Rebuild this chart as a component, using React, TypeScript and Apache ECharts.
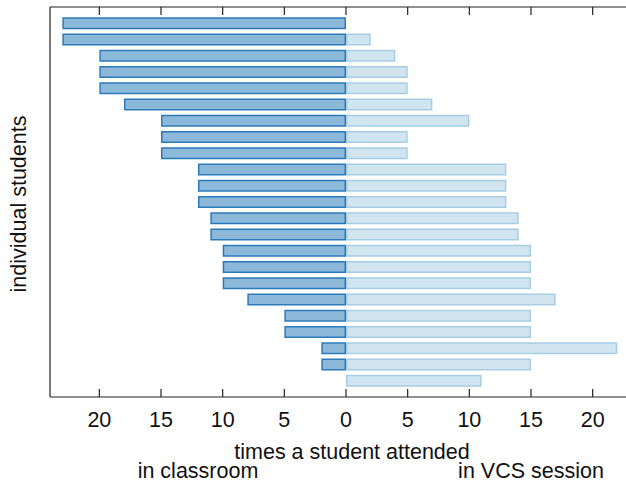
import React, { useEffect, useRef } from "react";
import * as echarts from "echarts";

const students = Array.from({ length: 23 }, (_, i) => `student ${i + 1}`);
const classroom = [23, 23, 20, 20, 20, 18, 15, 15, 15, 12, 12, 12, 11, 11, 10, 10, 10, 8, 5, 5, 2, 2, 0];
const vcsSession = [0, 2, 4, 5, 5, 7, 10, 5, 5, 13, 13, 13, 14, 14, 15, 15, 15, 17, 15, 15, 22, 15, 11];
const axisRange = [-24, 24];
const tickValues = [-20, -15, -10, -5, 0, 5, 10, 15, 20];
const xTitle = "times a student attended";
const yTitle = "individual students";
const leftLabel = "in classroom";
const rightLabel = "in VCS session";

const FONT = "'Liberation Sans', Arial, Helvetica, sans-serif";
const FS = 21.5;
const GRID_LEFT = 50;
const GRID_W = 592;
const GRID_TOP = 7;
const GRID_H = 390;
const TICK_LEN = 8;
const FRAME = "#222";

export default function App() {
  const ref = useRef<HTMLDivElement>(null);
  useEffect(() => {
    document.body.style.margin = "0";
    if (!ref.current) return;
    const chart = echarts.init(ref.current, null, { renderer: "svg" });
    const cats = ["", ...students, ""];
    const leftData = ["-", ...classroom.map((v) => (v === 0 ? "-" : -v)), "-"];
    const rightData = ["-", ...vcsSession.map((v) => (v === 0 ? "-" : v)), "-"];
    const frameData = tickValues.map((v) => [v, 0]);

    const renderFrame = (params: any, api: any) => {
      const cs = params.coordSys;
      const x = api.coord([api.value(0), 0])[0];
      const top = cs.y;
      const bottom = cs.y + cs.height;
      const style = { stroke: FRAME, lineWidth: 1.2, fill: "none" };
      const children: any[] = [
        { type: "line", shape: { x1: x, y1: top, x2: x, y2: top + TICK_LEN }, style },
        { type: "line", shape: { x1: x, y1: bottom - TICK_LEN, x2: x, y2: bottom }, style },
      ];
      if (params.dataIndex === 0) {
        children.push(
          { type: "line", shape: { x1: cs.x, y1: top, x2: cs.x + cs.width, y2: top }, style },
          { type: "line", shape: { x1: cs.x, y1: bottom, x2: cs.x + cs.width, y2: bottom }, style },
          { type: "line", shape: { x1: cs.x, y1: top, x2: cs.x, y2: bottom }, style }
        );
      }
      return { type: "group", children };
    };

    chart.setOption({
      animation: false,
      textStyle: { fontFamily: FONT },
      grid: {
        left: GRID_LEFT,
        top: GRID_TOP,
        width: GRID_W,
        height: GRID_H,
        outerBoundsMode: "none",
      },
      xAxis: {
        type: "value",
        min: axisRange[0],
        max: axisRange[1],
        axisLine: { show: false, onZero: false },
        axisTick: { show: false },
        splitLine: { show: false },
        axisLabel: {
          customValues: tickValues.slice(),
          formatter: (v: number) => String(Math.abs(v)),
          fontSize: FS,
          color: "#111",
          margin: 12,
          fontFamily: FONT,
        },
      },
      yAxis: {
        type: "category",
        data: cats,
        inverse: true,
        boundaryGap: false,
        axisLine: { show: false, onZero: false },
        axisTick: { show: false },
        axisLabel: { show: false },
        splitLine: { show: false },
      },
      series: [
        {
          name: leftLabel,
          type: "bar",
          data: leftData,
          barWidth: 12,
          barGap: "-100%",
          itemStyle: { color: "#8cb9da", borderColor: "#2b7bba", borderWidth: 1.5 },
        },
        {
          name: rightLabel,
          type: "bar",
          data: rightData,
          barWidth: 12,
          barGap: "-100%",
          itemStyle: { color: "#d1e5f0", borderColor: "#a8cde3", borderWidth: 1.5 },
        },
        {
          name: "frame",
          type: "custom",
          data: frameData,
          encode: { x: 0, y: 1 },
          clip: false,
          silent: true,
          z: 5,
          renderItem: renderFrame,
        },
      ],
      graphic: [
        {
          type: "text",
          x: 352,
          y: 452,
          style: { text: xTitle, fontSize: FS, fill: "#111", align: "center", verticalAlign: "middle", fontFamily: FONT },
        },
        {
          type: "text",
          x: 198,
          y: 471,
          style: { text: leftLabel, fontSize: FS, fill: "#111", align: "center", verticalAlign: "middle", fontFamily: FONT },
        },
        {
          type: "text",
          x: 531,
          y: 471,
          style: { text: rightLabel, fontSize: FS, fill: "#111", align: "center", verticalAlign: "middle", fontFamily: FONT },
        },
        {
          type: "text",
          x: 19,
          y: 204,
          rotation: Math.PI / 2,
          style: { text: yTitle, fontSize: FS, fill: "#111", align: "center", verticalAlign: "middle", fontFamily: FONT },
        },
      ],
    });
    return () => chart.dispose();
  }, []);
  return (
    <div style={{ width: 626, height: 485, overflow: "hidden" }}>
      <div ref={ref} style={{ width: 660, height: 485 }} />
    </div>
  );
}
